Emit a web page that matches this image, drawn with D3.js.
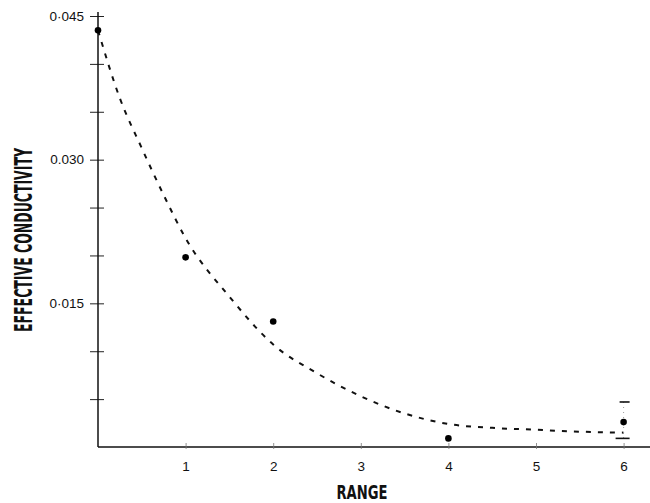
<!DOCTYPE html>
<html>
<head>
<meta charset="utf-8">
<script src="https://cdn.jsdelivr.net/npm/d3@7"></script>
<style>
  body { margin: 0; background: #fff; }
  svg { display: block; }
  .tick-label { font-family: "Liberation Sans", Arial, sans-serif; font-size: 13.5px; fill: #111; }
  .title { font-family: "Liberation Sans Narrow", "DejaVu Sans Condensed", sans-serif; font-weight: bold; fill: #111; }
</style>
</head>
<body>
<div id="chart"></div>
<script>
// measured points
const ranges = [0, 1, 2, 4, 6]
const conductivity = [0.0435, 0.0198, 0.0131, 0.0009, 0.0026]
// error bar at range 6
const errRange = 6
const errLow = 0.0009
const errHigh = 0.0047

// dashed fitted curve
const curveX = [0, 0.25, 0.5, 0.75, 1, 1.5, 2, 2.5, 3, 3.5, 4, 4.5, 5, 5.5, 6]
const curveY = [0.0435, 0.0364, 0.0312, 0.0263, 0.0218, 0.0157, 0.0107, 0.0077, 0.0053, 0.0035, 0.0024, 0.0020, 0.0018, 0.0016, 0.0015]

// axis ticks
const xTicks = [1, 2, 3, 4, 5, 6]
const yTicks = [0.005, 0.010, 0.015, 0.020, 0.025, 0.030, 0.035, 0.040, 0.045]
const yLabelValues = [0.015, 0.030, 0.045]
const yLabelTexts = ['0·015', '0.030', '0·045']

const width = 650
const height = 503
const margin = { left: 98, top: 16, right: 0, bottom: 56 }

const svg = d3.select('#chart')
  .append('svg')
  .attr('width', width)
  .attr('height', height)

const x = d3.scaleLinear()
  .domain([0, 6])
  .range([margin.left, margin.left + 87.6 * 6])

const y = d3.scaleLinear()
  .domain([0, 0.045])
  .range([height - margin.bottom, margin.top])

// y axis: ticks cross the line
const yAxis = d3.axisLeft(y)
  .tickValues(yTicks)
  .tickSize(8)
  .tickFormat('')
const gy = svg.append('g')
  .attr('transform', `translate(${margin.left},0)`)
  .call(yAxis)
gy.select('.domain').remove()
gy.selectAll('.tick line')
  .attr('x1', 6)
  .attr('stroke', '#222')
  .attr('stroke-width', 1)
svg.append('line')
  .attr('x1', margin.left).attr('x2', margin.left)
  .attr('y1', y(0.045) - 4).attr('y2', y(0))
  .attr('stroke', '#111')
  .attr('stroke-width', 1.5)

svg.append('g')
  .selectAll('text')
  .data(yLabelValues)
  .join('text')
  .attr('class', 'tick-label')
  .attr('x', margin.left - 14)
  .attr('y', d => y(d))
  .attr('dy', '0.35em')
  .attr('text-anchor', 'end')
  .text((d, i) => yLabelTexts[i])

// x axis
svg.append('line')
  .attr('x1', margin.left).attr('x2', width)
  .attr('y1', y(0)).attr('y2', y(0))
  .attr('stroke', '#111')
  .attr('stroke-width', 1.5)

const xAxis = d3.axisBottom(x)
  .tickValues(xTicks)
  .tickSize(0)
  .tickPadding(14)
  .tickFormat(d3.format('d'))
const gx = svg.append('g')
  .attr('transform', `translate(0,${y(0)})`)
  .call(xAxis)
gx.select('.domain').remove()
gx.selectAll('.tick line')
  .attr('y1', -4)
  .attr('y2', 2)
  .attr('stroke', '#777')
  .attr('stroke-width', 0.8)
gx.selectAll('.tick text')
  .attr('class', 'tick-label')
  .attr('fill', null)

// dashed curve
const line = d3.line()
  .x(d => x(d[0]))
  .y(d => y(d[1]))
  .curve(d3.curveMonotoneX)
svg.append('path')
  .datum(curveX.map((v, i) => [v, curveY[i]]))
  .attr('d', line)
  .attr('fill', 'none')
  .attr('stroke', '#111')
  .attr('stroke-width', 2)
  .attr('stroke-dasharray', '5,7')

// error bar at 6
svg.append('line')
  .attr('x1', x(errRange)).attr('x2', x(errRange))
  .attr('y1', y(errHigh)).attr('y2', y(errLow))
  .attr('stroke', '#999')
  .attr('stroke-width', 1)
  .attr('stroke-dasharray', '1,4')
svg.append('line')
  .attr('x1', x(errRange) - 4).attr('x2', x(errRange) + 6)
  .attr('y1', y(errHigh)).attr('y2', y(errHigh))
  .attr('stroke', '#111')
  .attr('stroke-width', 1.6)
svg.append('line')
  .attr('x1', x(errRange) - 8).attr('x2', x(errRange) + 6)
  .attr('y1', y(errLow)).attr('y2', y(errLow))
  .attr('stroke', '#111')
  .attr('stroke-width', 1.6)

// points
svg.append('g')
  .selectAll('circle')
  .data(ranges)
  .join('circle')
  .attr('cx', d => x(d))
  .attr('cy', (d, i) => y(conductivity[i]))
  .attr('r', 3.3)
  .attr('fill', '#000')

// axis titles
svg.append('text')
  .attr('class', 'title')
  .attr('x', 362)
  .attr('y', 499)
  .attr('text-anchor', 'middle')
  .attr('font-size', 19)
  .attr('textLength', 51)
  .attr('lengthAdjust', 'spacingAndGlyphs')
  .text('RANGE')

svg.append('text')
  .attr('class', 'title')
  .attr('transform', 'translate(32,240) rotate(-90)')
  .attr('text-anchor', 'middle')
  .attr('font-size', 25)
  .attr('textLength', 184)
  .attr('lengthAdjust', 'spacingAndGlyphs')
  .text('EFFECTIVE CONDUCTIVITY')
</script>
</body>
</html>
